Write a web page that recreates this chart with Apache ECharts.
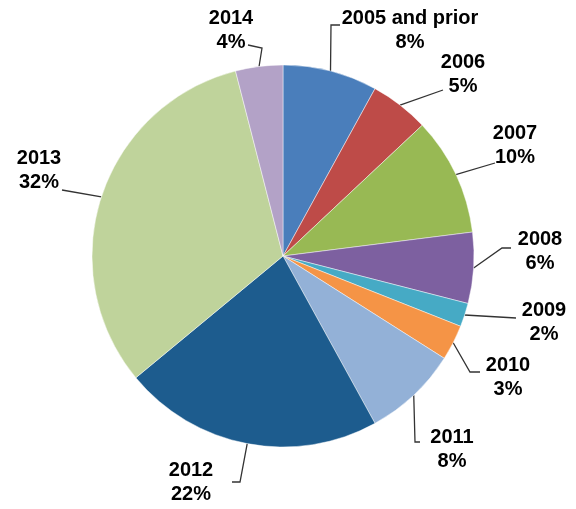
<!DOCTYPE html>
<html>
<head>
<meta charset="utf-8">
<script src="https://cdn.jsdelivr.net/npm/echarts@6/dist/echarts.min.js"></script>
<style>
  html, body { margin: 0; padding: 0; background: #fff; }
  #chart { width: 576px; height: 509px; }
</style>
</head>
<body>
<div id="chart"></div>
<script>
// Share of items by year
const categories = ['2005 and prior', '2006', '2007', '2008', '2009', '2010', '2011', '2012', '2013', '2014'];
const shares = [8, 5, 10, 6, 2, 3, 8, 22, 32, 4];
const sliceColors = ['#4A7EBB', '#BE4B48', '#98B954', '#7D60A0', '#46AAC5', '#F59446', '#93B1D7', '#1D5C8E', '#BFD39B', '#B3A2C7'];

// Label placement: text anchor (centre of the two-line block) and the leader-line path
// from the slice edge: optional elbow, then the end point near the text.
const labelPlacement = [
  { x: 410, y: 30, pts: [[331, 25], [340, 25]] },
  { x: 463, y: 74, pts: [[443, 90]] },
  { x: 515, y: 145, pts: [[495, 163]] },
  { x: 540, y: 251, pts: [[502, 248], [511, 248]] },
  { x: 544, y: 322, pts: [[516, 318]] },
  { x: 508, y: 377, pts: [[470, 372], [480, 372]] },
  { x: 452, y: 449, pts: [[415, 442], [420, 442]] },
  { x: 191, y: 482, pts: [[240, 482], [232, 482]] },
  { x: 39, y: 170, pts: [[62, 190]] },
  { x: 231, y: 30, pts: [[262, 48], [248, 45]] }
];

const center = [283, 256];
const radius = 191;
const total = shares.reduce((a, b) => a + b, 0);

// Point on the pie rim at the middle angle of slice i (clockwise from 12 o'clock)
function rimPoint(i) {
  let before = 0;
  for (let k = 0; k < i; k++) before += shares[k];
  const a = (before + shares[i] / 2) / total * Math.PI * 2;
  return [center[0] + radius * Math.sin(a), center[1] - radius * Math.cos(a)];
}

const chart = echarts.init(document.getElementById('chart'));
chart.setOption({
  animation: false,
  series: [{
    type: 'pie',
    center: center,
    radius: radius,
    startAngle: 90,
    clockwise: true,
    data: categories.map((c, i) => ({ name: c, value: shares[i], itemStyle: { color: sliceColors[i] } })),
    itemStyle: { borderColor: 'rgba(255,255,255,0.45)', borderWidth: 1 },
    label: {
      show: true,
      formatter: p => p.name + '\n' + p.value + '%',
      fontFamily: 'Liberation Sans, Arial, sans-serif',
      fontWeight: 'bold',
      fontSize: 20,
      lineHeight: 24,
      color: '#000',
      align: 'center',
      overflow: 'none'
    },
    labelLine: {
      show: true,
      lineStyle: { color: '#333', width: 1.3 }
    },
    labelLayout: function (params) {
      const i = params.dataIndex;
      const pl = labelPlacement[i];
      return {
        x: pl.x,
        y: pl.y,
        align: 'center',
        verticalAlign: 'middle',
        labelLinePoints: [rimPoint(i)].concat(pl.pts)
      };
    }
  }]
});
</script>
</body>
</html>
